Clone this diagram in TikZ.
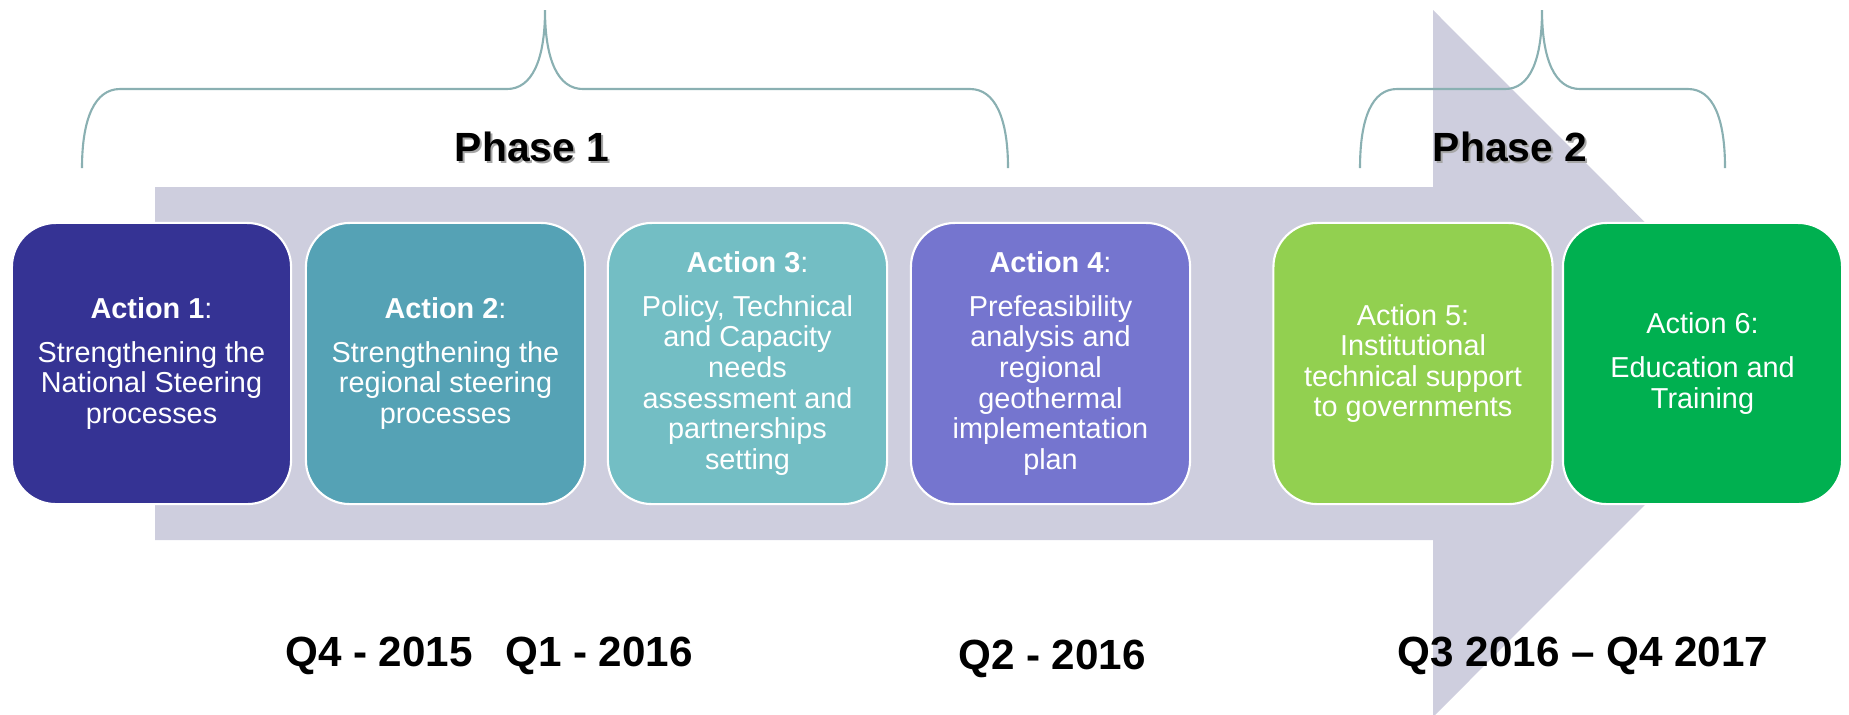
\documentclass[tikz,border=0pt]{standalone}
\usepackage{xcolor}
\usepackage{fontspec}
\setmainfont{Liberation Sans}
\usepackage{tikz}
\usetikzlibrary{shapes,arrows,positioning}

\definecolor{arrowgrey}{RGB}{206,206,222}
\definecolor{bracegrey}{RGB}{138,176,178}
\definecolor{actone}{RGB}{53,51,148}
\definecolor{acttwo}{RGB}{85,162,181}
\definecolor{actthree}{RGB}{115,190,196}
\definecolor{actfour}{RGB}{117,117,207}
\definecolor{actfive}{RGB}{146,208,80}
\definecolor{actsix}{RGB}{0,176,80}

\begin{document}
\begin{tikzpicture}[
    x=0.01cm, y=-0.01cm,
    actbox/.style={draw=white, line width=0.6pt, rounded corners=0.44cm,
        minimum width=2.79cm, minimum height=2.81cm, inner sep=0pt,
        align=center, text=white, font=\fontsize{8.2}{8.7}\selectfont},
    phase/.style={font=\fontsize{11.6}{14}\selectfont\bfseries},
    period/.style={font=\fontsize{12}{14}\selectfont\bfseries},
    brace/.style={draw=bracegrey, line width=0.6pt}
]
    \useasboundingbox (0,0) rectangle (1849,714);

    % Big timeline arrow
    \fill[arrowgrey] (155,187) -- (1433,187) -- (1433,10) -- (1786,363.5)
        -- (1433,717) -- (1433,540) -- (155,540) -- cycle;

    % Braces
    \draw[brace] (82,168) .. controls (82,118) and (95,89) .. (120,89) -- (507,89)
        .. controls (532,89) and (545,60) .. (545,10)
        .. controls (545,60) and (558,89) .. (583,89) -- (970,89)
        .. controls (995,89) and (1008,118) .. (1008,168);
    \draw[brace] (1360,168) .. controls (1360,118) and (1372,89) .. (1397,89) -- (1505,89)
        .. controls (1530,89) and (1542,60) .. (1542,10)
        .. controls (1542,60) and (1555,89) .. (1580,89) -- (1688,89)
        .. controls (1713,89) and (1725,118) .. (1725,168);

    % Phase labels
    \node[phase, text=black!35] at (534,149) {Phase 1};
    \node[phase] (ph1) at (532,147) {Phase 1};
    \node[phase, text=black!35] at (1512,149) {Phase 2};
    \node[phase] (ph2) at (1510,147) {Phase 2};

    % Phase 1 actions
    \node[actbox, fill=actone] (a1) at (151.5,363.5)
        {\textbf{Action 1}:\\[3.7pt] Strengthening the\\ National Steering\\ processes};
    \node[actbox, fill=acttwo] (a2) at (445.5,363.5)
        {\textbf{Action 2}:\\[3.7pt] Strengthening the\\ regional steering\\ processes};
    \node[actbox, fill=actthree] (a3) at (747.5,363.5)
        {\textbf{Action 3}:\\[3.7pt] Policy, Technical\\ and Capacity\\ needs\\ assessment and\\ partnerships\\ setting};
    \node[actbox, fill=actfour] (a4) at (1050.5,363.5)
        {\textbf{Action 4}:\\[3.7pt] Prefeasibility\\ analysis and\\ regional\\ geothermal\\ implementation\\ plan};

    % Phase 2 actions
    \node[actbox, fill=actfive] (a5) at (1413,363.5)
        {Action 5:\\ Institutional\\ technical support\\ to governments};
    \node[actbox, fill=actsix] (a6) at (1702.5,363.5)
        {Action 6:\\[3.7pt] Education and\\ Training};

    % Periods
    \node[period] (p1) at (379,656) {Q4 - 2015};
    \node[period] (p2) at (599,656) {Q1 - 2016};
    \node[period] (p3) at (1052,659) {Q2 - 2016};
    \node[period] (p4) at (1583,656) {Q3 2016 -- Q4 2017};
\end{tikzpicture}
\end{document}
